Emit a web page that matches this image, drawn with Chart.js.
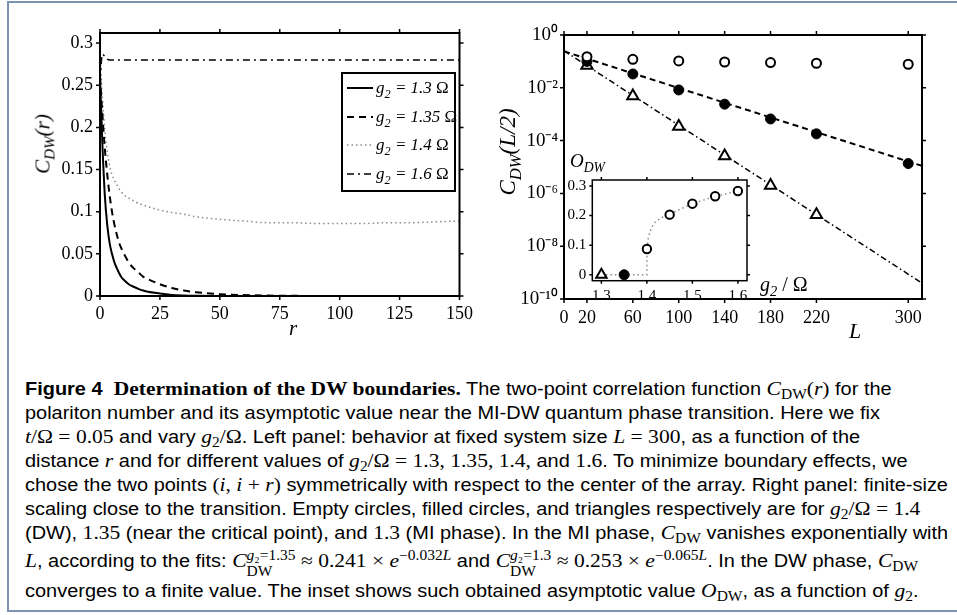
<!DOCTYPE html>
<html>
<head>
<meta charset="utf-8">
<script src="https://cdn.jsdelivr.net/npm/chart.js@4.4.1/dist/chart.umd.min.js"></script>
<style>
    html, body { margin: 0; padding: 0; background: #fff; }
    body { width: 957px; height: 615px; position: relative; overflow: hidden; }
    #frame { position: absolute; left: 7px; top: 1px; width: 960px; height: 611px;
             border: 2px solid #7d93b2; box-sizing: border-box; }
    canvas { position: absolute; }
    .serif { font-family: "Liberation Serif", "Times New Roman", serif; }
    .lbl { position: absolute; white-space: nowrap; font-family: "Liberation Serif", serif; font-style: italic; color: #000; }
    .rot { transform: translate(-50%, -50%) rotate(-90deg); }
    .lbl sub { font-size: 0.72em; vertical-align: -0.35em; line-height: 0; }
    #legend { position: absolute; left: 341px; top: 72px; width: 115px; height: 120px;
              border: 2px solid #000; box-sizing: border-box; background: #fff; }
    #legend .row { position: absolute; left: 4px; height: 20px; display: flex; align-items: center; }
    #legend svg { width: 26px; height: 4px; margin-right: 3px; }
    #legend span { font-family: "Liberation Serif", serif; font-style: italic; font-size: 17px; white-space: nowrap; }
    #legend sub { font-size: 0.72em; vertical-align: -0.4em; line-height: 0; }
    #caption { position: absolute; left: 25px; top: 377px; font-family: "Liberation Sans", Arial, sans-serif;
               font-size: 17.5px; line-height: 24px; color: #000; white-space: nowrap;
               transform: scaleX(1.14); transform-origin: 0 0; }
    #caption .m { font-family: "Liberation Serif", serif; font-size: 1.08em; }
    #caption .m sub { font-size: 0.72em; vertical-align: -0.3em; line-height: 0; }
    #caption .m sup { font-size: 0.72em; vertical-align: 0.5em; line-height: 0; }
    #caption .ss { display: inline-block; vertical-align: -0.62em; line-height: 1.15em; font-size: 0.72em; text-align: left; }
    #caption .tall { display: inline-block; padding-top: 3px; }
</style>
</head>
<body>
<div id="frame"></div>

<canvas id="leftChart" width="480" height="340" style="left:0;top:0"></canvas>
<canvas id="rightChart" width="477" height="340" style="left:480px;top:0"></canvas>
<canvas id="insetChart" width="205" height="140" style="left:550px;top:165px"></canvas>

<div class="lbl rot" style="left:43px;top:144px;font-size:21px">C<sub>DW</sub>(r)</div>
<div class="lbl" style="left:289px;top:316px;font-size:21px">r</div>
<div class="lbl rot" style="left:508px;top:152px;font-size:23px">C<sub>DW</sub>(L/2)</div>
<div class="lbl" style="left:849px;top:318px;font-size:22px">L</div>
<div class="lbl" style="left:570px;top:150px;font-size:19px">O<sub>DW</sub></div>
<div class="lbl" style="left:760px;top:273px;font-size:20px">g<sub>2</sub><span style="font-style:normal"> / Ω</span></div>

<div id="legend"></div>

<div id="caption">
<b>Figure 4</b>&nbsp; <b class="serif" style="font-size:1.08em">Determination of the DW boundaries.</b> The two-point correlation function <span class="m"><i>C</i><sub>DW</sub>(<i>r</i>)</span> for the<br>
polariton number and its asymptotic value near the MI-DW quantum phase transition. Here we fix<br>
<span class="m"><i>t</i>/Ω = 0.05</span> and vary <span class="m"><i>g</i><sub>2</sub>/Ω</span>. Left panel: behavior at fixed system size <span class="m"><i>L</i> = 300</span>, as a function of the<br>
distance <span class="m"><i>r</i></span> and for different values of <span class="m"><i>g</i><sub>2</sub>/Ω = 1.3, 1.35, 1.4,</span> and <span class="m">1.6</span>. To minimize boundary effects, we<br>
chose the two points <span class="m">(<i>i</i>, <i>i</i> + <i>r</i>)</span> symmetrically with respect to the center of the array. Right panel: finite-size<br>
scaling close to the transition. Empty circles, filled circles, and triangles respectively are for <span class="m"><i>g</i><sub>2</sub>/Ω = 1.4</span><br>
(DW), <span class="m">1.35</span> (near the critical point), and <span class="m">1.3</span> (MI phase). In the MI phase, <span class="m"><i>C</i><sub>DW</sub></span> vanishes exponentially with<br>
<span class="tall"><span class="m"><i>L</i></span>, according to the fits: <span class="m"><i>C</i><span class="ss"><i>g</i>₂=1.35<br>DW</span> ≈ 0.241 × <i>e</i><sup>−0.032<i>L</i></sup></span> and <span class="m"><i>C</i><span class="ss"><i>g</i>₂=1.3<br>DW</span> ≈ 0.253 × <i>e</i><sup>−0.065<i>L</i></sup></span>. In the DW phase, <span class="m"><i>C</i><sub>DW</sub></span></span><br>
converges to a finite value. The inset shows such obtained asymptotic value <span class="m"><i>O</i><sub>DW</sub></span>, as a function of <span class="m"><i>g</i><sub>2</sub></span>.
</div>

<script>
// ========================================
// DATA
// ========================================

// left panel: C_DW(r) at L = 300
const distances = [0, 1, 2, 3, 4, 5, 6, 7, 8, 9, 10, 12, 14, 16, 18, 20, 25, 30, 35, 40, 50, 60, 70, 80, 90, 100, 110, 120, 130, 140, 150];
const corrG130 = [0.26, 0.18, 0.12, 0.085, 0.063, 0.05, 0.04, 0.033, 0.027, 0.022, 0.019, 0.014, 0.011, 0.0085, 0.0065, 0.005, 0.003, 0.0013, 0.0006, 0.0003, 0.0001, 0, 0, 0, 0, 0, 0, 0, 0, 0, 0];
const corrG135 = [0.26, 0.215, 0.175, 0.145, 0.12, 0.1, 0.085, 0.073, 0.063, 0.056, 0.05, 0.04, 0.033, 0.028, 0.023, 0.02, 0.014, 0.0095, 0.0065, 0.0045, 0.0022, 0.0011, 0.0005, 0.0002, 0.0001, 0.00005, 0, 0, 0, 0, 0];
const corrG140 = [0.29, 0.235, 0.197, 0.172, 0.155, 0.144, 0.137, 0.132, 0.127, 0.123, 0.12, 0.116, 0.113, 0.11, 0.108, 0.106, 0.102, 0.099, 0.097, 0.094, 0.091, 0.089, 0.087, 0.087, 0.086, 0.086, 0.086, 0.087, 0.087, 0.088, 0.089];
const corrG160 = [0.255, 0.287, 0.284, 0.281, 0.28, 0.28, 0.28, 0.28, 0.28, 0.28, 0.28, 0.28, 0.28, 0.28, 0.28, 0.28, 0.28, 0.28, 0.28, 0.28, 0.28, 0.28, 0.28, 0.28, 0.28, 0.28, 0.28, 0.28, 0.28, 0.28, 0.28];
const leftXTicks = [0, 25, 50, 75, 100, 125, 150];
const leftYTicks = [0, 0.05, 0.1, 0.15, 0.2, 0.25, 0.3];
const legendLabels = ['1.3', '1.35', '1.4', '1.6'];

// right panel: C_DW(L/2) vs L
const sizes = [20, 60, 100, 140, 180, 220, 300];
const halfDW140 = [0.15, 0.12, 0.104, 0.095, 0.09, 0.085, 0.078];
const halfCrit135 = [0.1, 0.0334, 0.0083, 0.0024, 0.00066, 0.00018, 0.0000135];
const sizesMI = [20, 60, 100, 140, 180, 220];
const halfMI130 = [0.07, 0.0049, 0.00034, 0.000026, 0.000002, 0.000000155];
const fitL = [0, 312];
const fit135 = [0.241, 0.000011];
const fit130 = [0.253, 0.0000000004];
const rightXTicks = [0, 20, 60, 100, 140, 180, 220, 300];
const rightYTicks = [1e-10, 1e-8, 1e-6, 1e-4, 1e-2, 1];
const expLabels = ['10⁰', '10⁻²', '10⁻⁴', '10⁻⁶', '10⁻⁸', '10⁻¹⁰'];

// inset: O_DW vs g2
const insetG = [1.4, 1.45, 1.5, 1.55, 1.6];
const insetO = [0.087, 0.203, 0.24, 0.265, 0.283];
const curveG = [1.3, 1.35, 1.4, 1.4, 1.403, 1.41, 1.42, 1.435, 1.45, 1.5, 1.55, 1.6];
const curveO = [0, 0, 0, 0.087, 0.125, 0.16, 0.181, 0.195, 0.205, 0.24, 0.265, 0.283];
const insetXTicks = [1.3, 1.4, 1.5, 1.6];
const insetYTicks = [0, 0.1, 0.2, 0.3];

const SERIF = '"Liberation Serif", "Times New Roman", serif';

function pts(xs, ys) {
    return xs.map((x, i) => ({ x: x, y: ys[i] }));
}

// ========================================
// FRAME + OUTWARD TICKS PLUGIN
// ========================================
const framePlugin = {
    id: 'frame',
    beforeDraw(chart, args, opts) {
        if (!opts.fill) return;
        const a = chart.chartArea;
        chart.ctx.save();
        chart.ctx.fillStyle = '#fff';
        chart.ctx.fillRect(a.left, a.top, a.right - a.left, a.bottom - a.top);
        chart.ctx.restore();
    },
    afterDraw(chart, args, opts) {
        const ctx = chart.ctx;
        const a = chart.chartArea;
        const len = opts.tick || 4;
        ctx.save();
        ctx.strokeStyle = '#000';
        ctx.lineWidth = 1.5;
        ctx.beginPath();
        chart.scales.x.ticks.forEach(t => {
            const px = chart.scales.x.getPixelForValue(t.value);
            ctx.moveTo(px, a.bottom); ctx.lineTo(px, a.bottom + len);
            ctx.moveTo(px, a.top); ctx.lineTo(px, a.top - len);
        });
        chart.scales.y.ticks.forEach(t => {
            const py = chart.scales.y.getPixelForValue(t.value);
            ctx.moveTo(a.left, py); ctx.lineTo(a.left - len, py);
            ctx.moveTo(a.right, py); ctx.lineTo(a.right + len, py);
        });
        ctx.stroke();
        ctx.lineWidth = opts.width || 2;
        ctx.strokeRect(a.left, a.top, a.right - a.left, a.bottom - a.top);
        ctx.restore();
    }
};

function fixedTicks(list) {
    return function(scale) {
        scale.ticks = list.map(v => ({ value: v }));
    };
}

function axis(min, max, ticks, size, fitSize, pad, fmt, type) {
    return {
        type: type || 'linear',
        min: min,
        max: max,
        grid: { display: false, drawTicks: false },
        border: { display: false },
        afterBuildTicks: fixedTicks(ticks),
        afterFit: fitSize,
        ticks: {
            autoSkip: false,
            maxRotation: 0,
            padding: pad,
            color: '#000',
            font: { family: SERIF, size: size },
            callback: fmt || (v => String(v))
        }
    };
}

// ========================================
// LEFT PANEL
// ========================================
function drawLeft() {
    new Chart(document.getElementById('leftChart'), {
        type: 'line',
        data: {
            datasets: [
                { data: pts(distances, corrG130), borderColor: '#000', borderWidth: 2 },
                { data: pts(distances, corrG135), borderColor: '#000', borderWidth: 2, borderDash: [7, 5] },
                { data: pts(distances, corrG140), borderColor: '#8a8a8a', borderWidth: 1.5, borderDash: [1.5, 3] },
                { data: pts(distances, corrG160), borderColor: '#000', borderWidth: 1.5, borderDash: [7, 4, 2, 4] }
            ]
        },
        options: {
            responsive: false,
            animation: false,
            devicePixelRatio: 1,
            layout: { padding: { left: 0, top: 33, right: 17, bottom: 0 } },
            elements: { point: { radius: 0 }, line: { cubicInterpolationMode: 'monotone', fill: false } },
            plugins: { legend: { display: false }, tooltip: { enabled: false }, frame: { tick: 4 } },
            scales: {
                x: axis(0, 150, leftXTicks, 18, s => { s.height = 44; }, 7),
                y: axis(0, 0.312, leftYTicks, 18, s => { s.width = 100; }, 7)
            }
        },
        plugins: [framePlugin]
    });
}

// ========================================
// RIGHT PANEL
// ========================================
function drawRight() {
    new Chart(document.getElementById('rightChart'), {
        type: 'scatter',
        data: {
            datasets: [
                { data: pts(sizes, halfDW140), pointStyle: 'circle', pointRadius: 4.5, borderWidth: 2,
                  borderColor: '#000', backgroundColor: '#fff' },
                { data: pts(sizes, halfCrit135), pointStyle: 'circle', pointRadius: 5, borderWidth: 1,
                  borderColor: '#000', backgroundColor: '#000' },
                { data: pts(sizesMI, halfMI130), pointStyle: 'triangle', pointRadius: 6.5, borderWidth: 2,
                  borderColor: '#000', backgroundColor: '#fff' },
                { data: pts(fitL, fit135), showLine: true, pointRadius: 0, borderColor: '#000', borderWidth: 2,
                  borderDash: [6, 4] },
                { data: pts(fitL, fit130), showLine: true, pointRadius: 0, borderColor: '#000', borderWidth: 1.5,
                  borderDash: [6, 3, 1.5, 3] }
            ]
        },
        options: {
            responsive: false,
            animation: false,
            devicePixelRatio: 1,
            layout: { padding: { left: 0, top: 35, right: 35, bottom: 0 } },
            plugins: { legend: { display: false }, tooltip: { enabled: false }, frame: { tick: 4 } },
            scales: {
                x: axis(0, 312, rightXTicks, 18, s => { s.height = 41; }, 8),
                y: axis(1e-10, 1, rightYTicks, 19, s => { s.width = 84; }, 6,
                        v => expLabels[Math.round(-Math.log10(v) / 2)], 'logarithmic')
            }
        },
        plugins: [framePlugin]
    });
}

// ========================================
// INSET
// ========================================
function drawInset() {
    new Chart(document.getElementById('insetChart'), {
        type: 'scatter',
        data: {
            datasets: [
                { data: [{ x: curveG[0], y: curveO[0] }], pointStyle: 'triangle', pointRadius: 6, borderWidth: 2,
                  borderColor: '#000', backgroundColor: '#fff' },
                { data: [{ x: curveG[1], y: curveO[1] }], pointStyle: 'circle', pointRadius: 5, borderWidth: 1,
                  borderColor: '#000', backgroundColor: '#000' },
                { data: pts(insetG, insetO), pointStyle: 'circle', pointRadius: 4.2, borderWidth: 2,
                  borderColor: '#000', backgroundColor: '#fff' },
                { data: pts(curveG, curveO), showLine: true, pointRadius: 0, borderColor: '#8a8a8a',
                  borderWidth: 1.5, borderDash: [1.5, 3] }
            ]
        },
        options: {
            responsive: false,
            animation: false,
            devicePixelRatio: 1,
            layout: { padding: { left: 0, top: 10, right: 5, bottom: 0 } },
            plugins: { legend: { display: false }, tooltip: { enabled: false }, frame: { tick: 3, width: 1.5, fill: true } },
            scales: {
                x: axis(1.28, 1.62, insetXTicks, 15, s => { s.height = 24.3; }, 6, v => v.toFixed(1)),
                y: axis(-0.02, 0.32, insetYTicks, 15, s => { s.width = 42.3; }, 6, v => v === 0 ? '0' : v.toFixed(1))
            }
        },
        plugins: [framePlugin]
    });
}

// ========================================
// LEGEND (left panel)
// ========================================
function buildLegend() {
    const dashes = ['', '7 5', '1.5 3', '7 4 2 4'];
    const colors = ['#000', '#000', '#8a8a8a', '#000'];
    const widths = [2, 2, 1.5, 1.5];
    const box = document.getElementById('legend');
    legendLabels.forEach((lab, i) => {
        const row = document.createElement('div');
        row.className = 'row';
        row.style.top = (4 + i * 28.6) + 'px';
        row.innerHTML =
            `<svg viewBox="0 0 26 4"><line x1="0" y1="2" x2="26" y2="2" stroke="${colors[i]}" ` +
            `stroke-width="${widths[i]}" stroke-dasharray="${dashes[i]}"/></svg>` +
            `<span>g<sub>2</sub> = ${lab} <span style="font-style:normal">Ω</span></span>`;
        box.appendChild(row);
    });
}

buildLegend();
drawLeft();
drawRight();
drawInset();
</script>
</body>
</html>
